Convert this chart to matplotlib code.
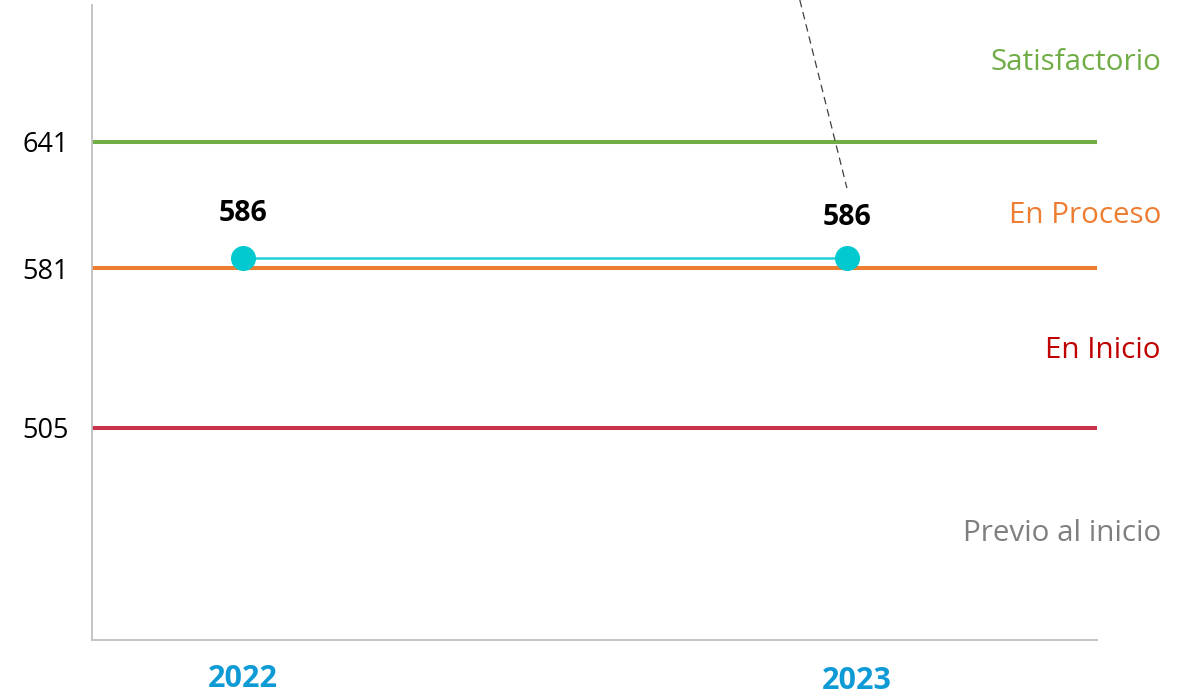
import matplotlib.pyplot as plt
import matplotlib.transforms as mtransforms

plt.rcParams['font.family'] = ['Open Sans', 'DejaVu Sans']

# data
years = ["2022", "2023"]
scores = [586, 586]
cut_values = [641, 581, 505]
cut_colors = ["#70ad47", "#ed7d31", "#c9334a"]
levels = ["Satisfactorio", "En Proceso", "En Inicio", "Previo al inicio"]
level_y = [678.7, 606, 542, 455]
level_colors = ["#70ad47", "#ed7d31", "#c00000", "#7f7f7f"]

fig = plt.figure(figsize=(11.9, 6.97), dpi=100)
ax = fig.add_axes([0.0773, 0.0818, 0.8445, 0.911])

x = list(range(len(years)))
ax.set_xlim(-0.25, 1.414)
ax.set_ylim(404.2, 706.1)

# cut lines
for v, c in zip(cut_values, cut_colors):
    ax.axhline(v, color=c, lw=2.9, zorder=2)

# score line
ax.plot(x, scores, color="#1fd0d6", lw=1.8, marker="o", ms=17,
        markerfacecolor="#00c9cf", markeredgecolor="#00c9cf", zorder=3)

# value labels
ax.annotate(str(scores[0]), (x[0], scores[0]), xytext=(0, 32), textcoords="offset points",
            ha="center", va="center", fontsize=20.5, fontweight="bold", color="black")
ax.annotate(str(scores[1]), (x[1], scores[1]), xytext=(0, 29), textcoords="offset points",
            ha="center", va="center", fontsize=20.5, fontweight="bold", color="black")

# leader line of the moved label
ax.plot([0.922, 1.0], [708.5, 619.1], color="#404040", lw=0.9, ls=(0, (6, 4)),
        clip_on=False, zorder=4)

# level names
for name, yv, c in zip(levels, level_y, level_colors):
    ax.text(1.52, yv, name, ha="right", va="center", fontsize=21.3, color=c,
            clip_on=False)

ax.set_yticks(cut_values)
ax.set_yticklabels([str(v) for v in cut_values], fontsize=19.5)
ax.set_xticks(x)
ax.set_xticklabels(years, fontsize=22, fontweight="bold", color="#0e9bd5")
ax.tick_params(axis="both", length=0)
ax.tick_params(axis="x", pad=17)
ax.tick_params(axis="y", pad=17)

# the 2023 label sits a bit to the right in the original
lbl = ax.get_xticklabels()[1]
lbl.set_transform(lbl.get_transform() + mtransforms.ScaledTranslation(0.1, -0.02, fig.dpi_scale_trans))

for s in ["top", "right"]:
    ax.spines[s].set_visible(False)
for s in ["left", "bottom"]:
    ax.spines[s].set_color("#bfbfbf")
    ax.spines[s].set_linewidth(1.3)

fig.savefig("out.png", dpi=100)
